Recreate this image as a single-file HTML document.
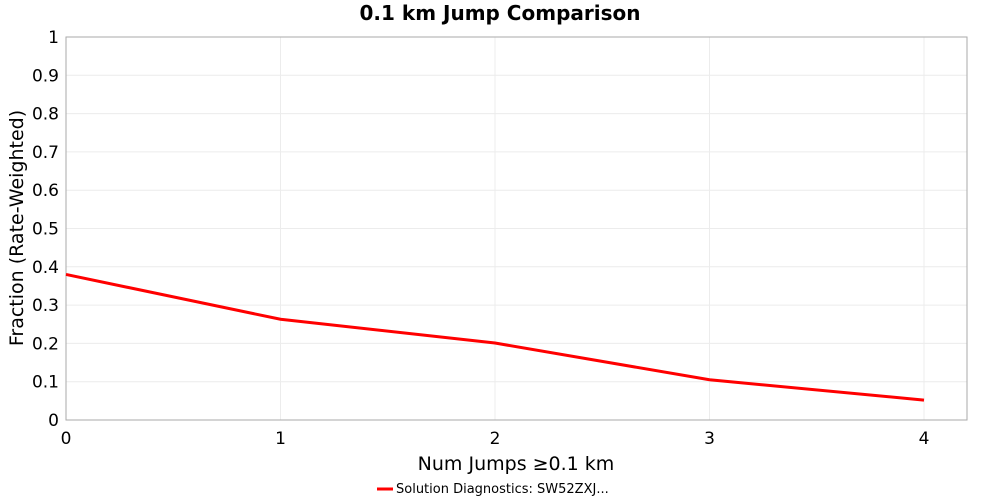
<!DOCTYPE html>
<html><head><meta charset="utf-8"><style>
body{margin:0;background:#fff;width:1000px;height:500px;overflow:hidden;font-family:"DejaVu Sans","Liberation Sans",sans-serif}
</style></head><body>
<svg id="chart" width="1000" height="500" xmlns="http://www.w3.org/2000/svg">
<text x="500" y="20" text-anchor="middle" font-size="20" font-weight="bold" font-family="DejaVu Sans, sans-serif">0.1 km Jump Comparison</text>
<g id="grid"></g>
<rect x="66" y="37" width="901" height="383" fill="none" stroke="#aaa"/>
<g id="ticks"></g>
<text x="516" y="470" text-anchor="middle" font-size="19" font-family="DejaVu Sans, sans-serif">Num Jumps ≥0.1 km</text>
<text transform="translate(23,228) rotate(-90)" text-anchor="middle" font-size="19" font-family="DejaVu Sans, sans-serif">Fraction (Rate-Weighted)</text>
<path id="series" fill="none" stroke="#f00" stroke-width="3"/>
<g>
<line x1="377" y1="489" x2="393" y2="489" stroke="#f00" stroke-width="3"/>
<text x="396" y="493" font-size="13" font-family="DejaVu Sans, sans-serif">Solution Diagnostics: SW52ZXJ...</text>
</g>
</svg>
<script>
const xCats=[0,1,2,3,4];
const yVals=[0.38,0.263,0.201,0.105,0.052];
const xTicks=[0,1,2,3,4];
const yTicks=[0,0.1,0.2,0.3,0.4,0.5,0.6,0.7,0.8,0.9,1];
const X=v=>66+v*214.5, Y=v=>420-v*383;
const ns="http://www.w3.org/2000/svg";
const grid=document.getElementById('grid'),ticks=document.getElementById('ticks');
function mk(tag,attrs,parent){const e=document.createElementNS(ns,tag);for(const k in attrs)e.setAttribute(k,attrs[k]);parent.appendChild(e);return e;}
yTicks.forEach(t=>{
 const l=mk('line',{x1:66,x2:967,y1:Y(t),y2:Y(t),stroke:'#ececec'},grid);
 
 
 const tx=mk('text',{x:59,y:Y(t)+6,'text-anchor':'end','font-size':17},ticks);
 
 
 tx.textContent=String(t);
});
xTicks.forEach(t=>{
 const l=mk('line',{x1:X(t),x2:X(t),y1:37,y2:420,stroke:'#ececec'},grid);
 
 
 const tx=mk('text',{x:X(t),y:444,'text-anchor':'middle','font-size':17},ticks);
 
 
 tx.textContent=String(t);
});
document.getElementById('series').setAttribute('d',xCats.map((c,i)=>(i?'L':'M')+X(c)+','+Y(yVals[i])).join(''));
</script>
</body></html>
